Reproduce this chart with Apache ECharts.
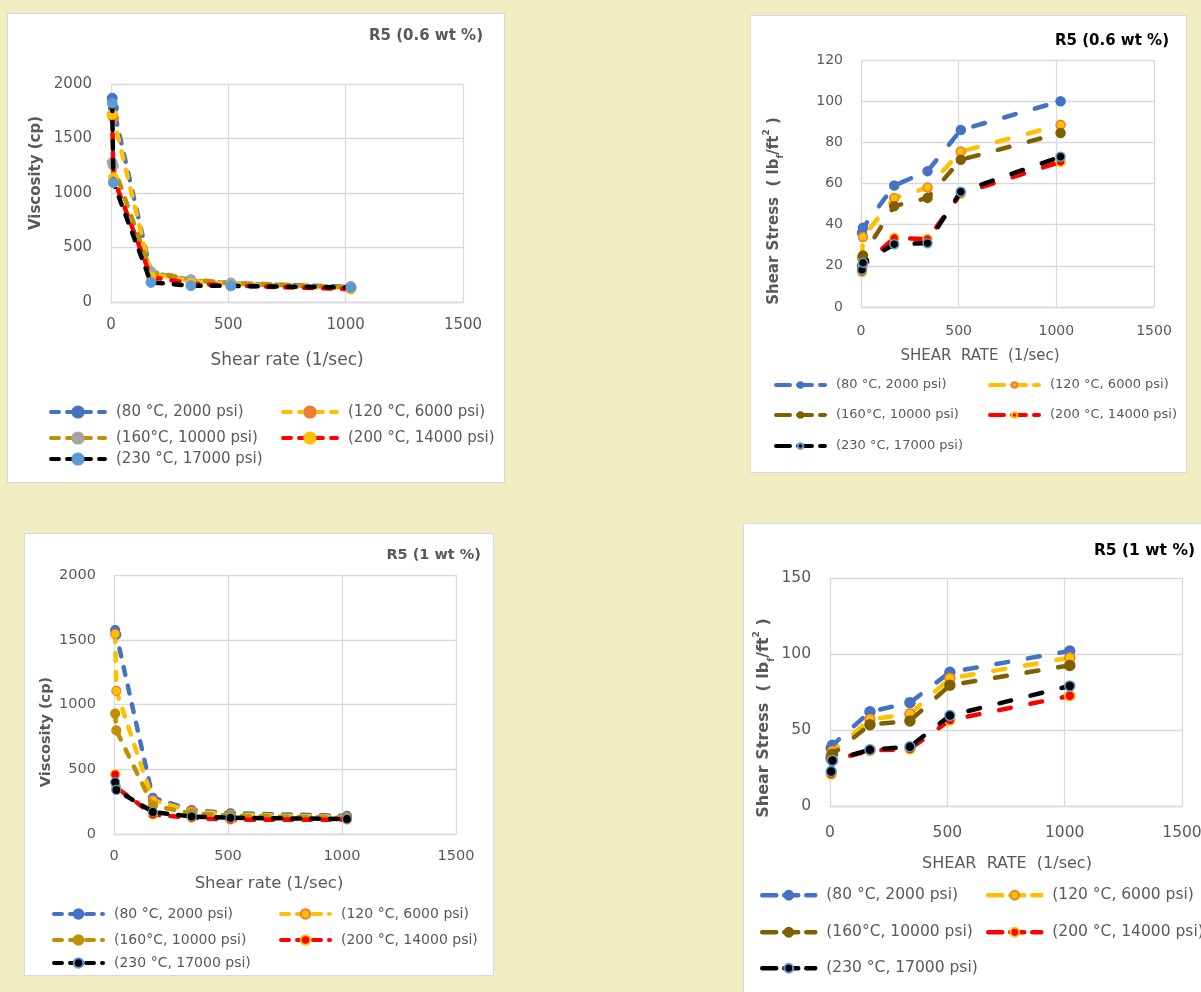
<!DOCTYPE html>
<html>
<head>
<meta charset="utf-8">
<script src="https://cdn.jsdelivr.net/npm/echarts@6/dist/echarts.min.js"></script>
<style>
  html, body { margin: 0; padding: 0; width: 1201px; height: 992px; overflow: hidden; background: #F0EDC3; }
  .panel { position: absolute; background: #ffffff; border: 1px solid #D9D9D9; box-sizing: border-box; }
</style>
</head>
<body>
<div id="p1" class="panel" style="left:7px;top:13px;width:498px;height:470px;"></div>
<div id="p2" class="panel" style="left:750px;top:15px;width:437px;height:458px;"></div>
<div id="p3" class="panel" style="left:24px;top:533px;width:470px;height:443px;"></div>
<div id="p4" class="panel" style="left:743px;top:523px;width:470px;height:480px;"></div>
<script>
// Shear rates of the six viscometer readings (3, 6, 100, 200, 300, 600 rpm), 1/sec
const shearRate = [5.11, 10.22, 170.3, 340.6, 510.9, 1021.8];

const seriesLabels = ['(80 °C, 2000 psi)', '(120 °C, 6000 psi)', '(160°C, 10000 psi)', '(200 °C, 14000 psi)', '(230 °C, 17000 psi)'];

// Viscosity (cp), R5 0.6 wt %
const visc06_T80  = [1870, 1780, 270, 200, 170, 140];
const visc06_T120 = [1720, 1690, 260, 195, 165, 125];
const visc06_T160 = [1280, 1250, 280, 205, 175, 135];
const visc06_T200 = [1720, 1140, 230, 170, 150, 118];
const visc06_T230 = [1825, 1095, 180, 150, 148, 132];

// Shear stress (lbf/ft2), R5 0.6 wt %
const stress06_T80  = [36, 38.5, 59, 66, 86, 100];
const stress06_T120 = [24, 34, 53, 58, 75.5, 88.5];
const stress06_T160 = [20, 25, 49, 53, 71.5, 84.5];
const stress06_T200 = [17, 20, 33.5, 33, 55, 70.5];
const stress06_T230 = [18, 21.5, 30.5, 31, 56, 73];

// Viscosity (cp), R5 1 wt %
const visc1_T80  = [1575, 1540, 280, 185, 160, 140];
const visc1_T120 = [1545, 1105, 260, 175, 150, 130];
const visc1_T160 = [930, 800, 220, 160, 140, 125];
const visc1_T200 = [460, 360, 150, 125, 110, 110];
const visc1_T230 = [400, 340, 170, 135, 125, 116];

// Shear stress (lbf/ft2), R5 1 wt %
const stress1_T80  = [38, 40, 62, 68, 88, 102];
const stress1_T120 = [33, 36, 57, 60.5, 84, 97.5];
const stress1_T160 = [31, 34, 53.5, 56, 79.5, 92.5];
const stress1_T200 = [21, 30, 36.5, 37.5, 56.5, 72.5];
const stress1_T230 = [22.7, 30, 37, 39, 59.5, 79];

const xTicks = { min: 0, max: 1500, interval: 500 };
const viscTicks = { min: 0, max: 2000, interval: 500 };
const stress06Ticks = { min: 0, max: 120, interval: 20 };
const stress1Ticks = { min: 0, max: 150, interval: 50 };

const FONT = '"DejaVu Sans", "Liberation Sans", sans-serif';
const GRAY = '#595959';
const GRID_LINE = '#D9D9D9';

function plainNumber(v) { return String(v); }

function buildPanel(id, cfg) {
  const el = document.getElementById(id);
  const chart = echarts.init(el, null, { renderer: 'canvas', width: el.clientWidth, height: el.clientHeight });

  const series = cfg.data.map((vals, i) => ({
    name: seriesLabels[i],
    type: 'line',
    data: shearRate.map((x, j) => [x, vals[j]]),
    symbol: 'circle',
    symbolSize: cfg.symbolSize,
    lineStyle: { color: cfg.lineColors[i], width: cfg.lineWidth, type: cfg.dash, cap: 'round' },
    itemStyle: { color: cfg.markerFill[i], borderColor: cfg.markerBorder[i], borderWidth: cfg.markerBorderWidth },
    z: 2 + i,
    silent: true,
    animation: false
  }));

  const legendRows = [[0, 0], [1, 0], [0, 1], [1, 1], [0, 2]];
  const legend = seriesLabels.map((name, i) => {
    const [c, r] = legendRows[i];
    const h = Math.max(cfg.legendItemHeight, cfg.legendFont);
    return {
      data: [name],
      left: cfg.legendCols[c],
      top: cfg.legendRowsY[r] - h / 2,
      padding: 0,
      itemWidth: cfg.legendItemWidth,
      itemHeight: cfg.legendItemHeight,
      itemGap: 0,
      textStyle: { color: GRAY, fontSize: cfg.legendFont, fontFamily: FONT, padding: [0, 0, 0, cfg.legendTextGap] },
      lineStyle: { width: cfg.legendLineWidth, type: cfg.legendDash, cap: 'round' },
      selectedMode: false
    };
  });

  const yNameRich = cfg.yNameRich || {};
  const graphic = [
    {
      type: 'text', x: cfg.title.x, y: cfg.title.y, silent: true,
      style: { text: cfg.title.text, fill: cfg.title.color, font: 'bold ' + cfg.title.size + 'px ' + FONT, align: 'right', verticalAlign: 'middle' }
    },
    {
      type: 'text', x: cfg.xName.x, y: cfg.xName.y, silent: true,
      style: { text: cfg.xName.text, fill: GRAY, font: (cfg.xName.weight || 'normal') + ' ' + cfg.xName.size + 'px ' + FONT, align: 'center', verticalAlign: 'middle' }
    },
    {
      type: 'text', x: cfg.yName.x, y: cfg.yName.y, rotation: Math.PI / 2, silent: true,
      style: { text: cfg.yName.text, fill: GRAY, font: 'bold ' + cfg.yName.size + 'px ' + FONT, align: 'center', verticalAlign: 'middle', rich: yNameRich }
    }
  ];

  chart.setOption({
    animation: false,
    grid: { left: cfg.grid.left, top: cfg.grid.top, width: cfg.grid.width, height: cfg.grid.height, containLabel: false },
    xAxis: {
      type: 'value', min: xTicks.min, max: xTicks.max, interval: xTicks.interval,
      axisLine: { show: true, lineStyle: { color: GRID_LINE, width: 1.3 } },
      axisTick: { show: false },
      axisLabel: { color: GRAY, fontSize: cfg.tickFont, fontFamily: FONT, margin: cfg.xLabelMargin, showMinLabel: true, showMaxLabel: true, formatter: plainNumber },
      splitLine: { show: true, lineStyle: { color: GRID_LINE, width: 1.3 } }
    },
    yAxis: {
      type: 'value', min: cfg.yTicks.min, max: cfg.yTicks.max, interval: cfg.yTicks.interval,
      axisLine: { show: false },
      axisTick: { show: false },
      axisLabel: { color: GRAY, fontSize: cfg.tickFont, fontFamily: FONT, margin: cfg.yLabelMargin, formatter: plainNumber },
      splitLine: { show: true, lineStyle: { color: GRID_LINE, width: 1.3 } }
    },
    legend: legend,
    graphic: graphic,
    series: series
  });
  return chart;
}

const stressRich = {
  sub: { fontSize: 9, fontWeight: 'bold', fontFamily: FONT, fill: GRAY, verticalAlign: 'bottom', padding: [0, 0, -4, 0] },
  sup: { fontSize: 9, fontWeight: 'bold', fontFamily: FONT, fill: GRAY, verticalAlign: 'top', padding: [-4, 0, 0, 0] }
};

// Viscosity, 0.6 wt %
buildPanel('p1', {
  data: [visc06_T80, visc06_T120, visc06_T160, visc06_T200, visc06_T230],
  yTicks: viscTicks,
  grid: { left: 103, top: 70, width: 352, height: 218 },
  lineColors: ['#4472C4', '#FFC000', '#BF9000', '#FF0000', '#000000'],
  markerFill: ['#4472C4', '#ED7D31', '#A5A5A5', '#FFC000', '#5B9BD5'],
  markerBorder: ['#4472C4', '#ED7D31', '#A5A5A5', '#FFC000', '#5B9BD5'],
  markerBorderWidth: 1,
  symbolSize: 10,
  lineWidth: 4.5,
  dash: [8, 11],
  legendDash: [8, 8],
  tickFont: 15, xLabelMargin: 16, yLabelMargin: 19,
  title: { text: 'R5 (0.6 wt %)', x: 475, y: 22, size: 15, color: GRAY },
  xName: { text: 'Shear rate (1/sec)', x: 279, y: 347, size: 17 },
  yName: { text: 'Viscosity (cp)', x: 28, y: 159, size: 15 },
  legendCols: [41, 273], legendRowsY: [398, 424, 445],
  legendItemWidth: 54, legendItemHeight: 14, legendLineWidth: 4, legendFont: 15, legendTextGap: 6
});

// Shear stress, 0.6 wt %
buildPanel('p2', {
  data: [stress06_T80, stress06_T120, stress06_T160, stress06_T200, stress06_T230],
  yTicks: stress06Ticks,
  grid: { left: 110, top: 44, width: 293, height: 247 },
  lineColors: ['#4472C4', '#FFC000', '#7F6000', '#FF0000', '#000000'],
  markerFill: ['#4472C4', '#FFC000', '#7F6000', '#FF0000', '#000000'],
  markerBorder: ['#4472C4', '#ED7D31', '#7F6000', '#FFC000', '#5B9BD5'],
  markerBorderWidth: 1.5,
  symbolSize: 9,
  lineWidth: 4.5,
  dash: [12, 20],
  legendDash: [14, 8],
  tickFont: 14, xLabelMargin: 17, yLabelMargin: 18,
  title: { text: 'R5 (0.6 wt %)', x: 418, y: 25, size: 15, color: '#000000' },
  xName: { text: 'SHEAR  RATE  (1/sec)', x: 229, y: 340, size: 15 },
  yName: { text: 'Shear Stress  ( lb{sub|f}/ft{sup|2} )', x: 23, y: 195, size: 15 },
  yNameRich: stressRich,
  legendCols: [23, 237], legendRowsY: [369, 399, 430],
  legendItemWidth: 49, legendItemHeight: 7, legendLineWidth: 4, legendFont: 13, legendTextGap: 6
});

// Viscosity, 1 wt %
buildPanel('p3', {
  data: [visc1_T80, visc1_T120, visc1_T160, visc1_T200, visc1_T230],
  yTicks: viscTicks,
  grid: { left: 89, top: 41, width: 342, height: 259 },
  lineColors: ['#4472C4', '#FFC000', '#BF9000', '#FF0000', '#000000'],
  markerFill: ['#4472C4', '#FFC000', '#BF9000', '#FF0000', '#000000'],
  markerBorder: ['#4472C4', '#ED7D31', '#BF9000', '#FFC000', '#5B9BD5'],
  markerBorderWidth: 1.2,
  symbolSize: 9,
  lineWidth: 4.5,
  dash: [8, 11],
  legendDash: [8, 8],
  tickFont: 14.5, xLabelMargin: 15, yLabelMargin: 18,
  title: { text: 'R5 (1 wt %)', x: 456, y: 21, size: 14.5, color: GRAY },
  xName: { text: 'Shear rate (1/sec)', x: 244, y: 350, size: 16.5 },
  yName: { text: 'Viscosity (cp)', x: 21, y: 198, size: 14.5 },
  legendCols: [27, 254], legendRowsY: [380, 406, 429],
  legendItemWidth: 49, legendItemHeight: 12, legendLineWidth: 4, legendFont: 14, legendTextGap: 6
});

// Shear stress, 1 wt %
buildPanel('p4', {
  data: [stress1_T80, stress1_T120, stress1_T160, stress1_T200, stress1_T230],
  yTicks: stress1Ticks,
  grid: { left: 86, top: 54, width: 352, height: 228 },
  lineColors: ['#4472C4', '#FFC000', '#7F6000', '#FF0000', '#000000'],
  markerFill: ['#4472C4', '#FFC000', '#7F6000', '#FF0000', '#000000'],
  markerBorder: ['#4472C4', '#ED7D31', '#7F6000', '#FFC000', '#5B9BD5'],
  markerBorderWidth: 1.5,
  symbolSize: 10,
  lineWidth: 4.5,
  dash: [12, 20],
  legendDash: [14, 8],
  tickFont: 15.5, xLabelMargin: 19, yLabelMargin: 19,
  title: { text: 'R5 (1 wt %)', x: 451, y: 27, size: 15.5, color: '#000000' },
  xName: { text: 'SHEAR  RATE  (1/sec)', x: 263, y: 340, size: 16 },
  yName: { text: 'Shear Stress  ( lb{sub|f}/ft{sup|2} )', x: 20, y: 194, size: 16 },
  yNameRich: stressRich,
  legendCols: [16, 242], legendRowsY: [371, 408, 444],
  legendItemWidth: 53, legendItemHeight: 11, legendLineWidth: 4.5, legendFont: 15.5, legendTextGap: 6
});
</script>
</body>
</html>
